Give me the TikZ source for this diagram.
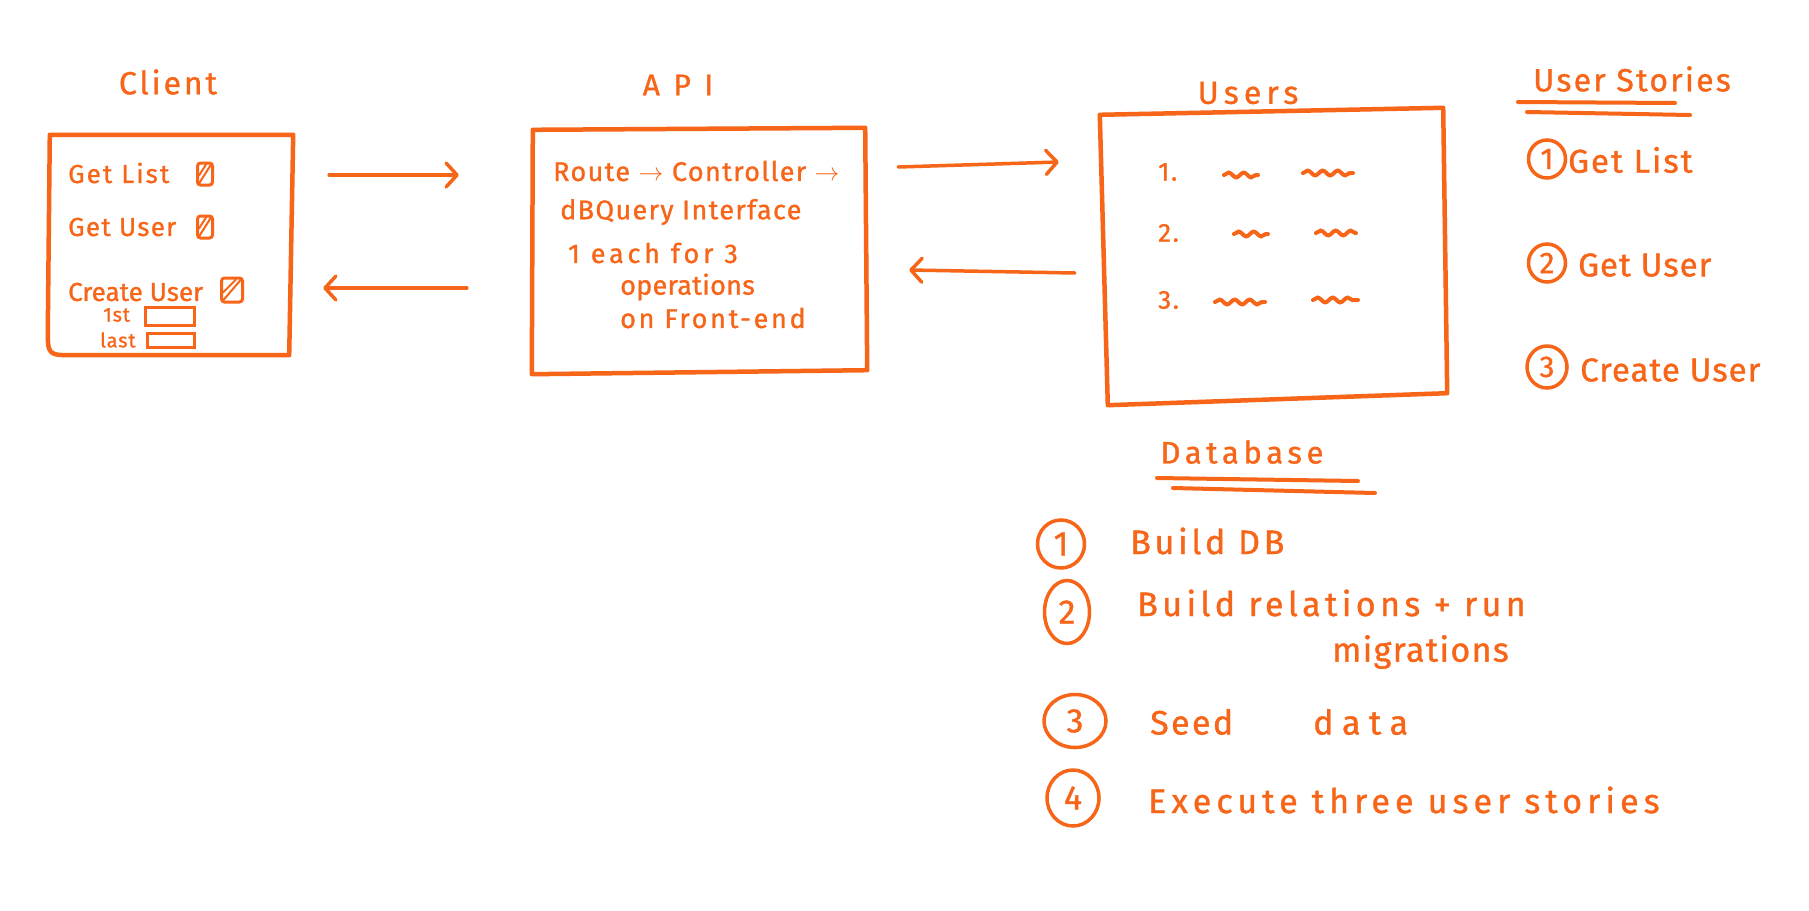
\documentclass[tikz,border=0pt]{standalone}
\usepackage{fontspec}
\setmainfont{Fira Sans}[FakeBold=1]
\usetikzlibrary{arrows.meta,shapes.geometric,decorations.pathmorphing}
\definecolor{ink}{RGB}{247,101,25}
\newcommand\hsz[2]{\fontsize{#1}{#1}\selectfont\addfontfeature{LetterSpace=#2}}
\begin{document}
\begin{tikzpicture}[x=1pt,y=-1pt,
  inkline/.style={draw=ink,line width=4.5pt,line cap=round,line join=round},
  arr/.style={draw=ink,line width=3.5pt,line cap=round,-{Straight Barb[length=11pt,width=24pt,round]}},
  txt/.style={text=ink,inner sep=0pt,anchor=west},
  ttl/.style={text=ink,inner sep=0pt,anchor=center},
  boxarea/.style={inner sep=0pt,draw=none},
  chk/.style={draw=ink,line width=3pt,rounded corners=3pt,inner sep=0pt},
  field/.style={draw=ink,line width=3pt,inner sep=0pt},
  numc/.style={ellipse,draw=ink,line width=3.5pt,text=ink,inner sep=0pt},
  squig/.style={draw=ink,line width=4pt,line cap=round,decorate,decoration={snake,amplitude=2.4pt,segment length=15pt}},
  uline/.style={draw=ink,line width=4pt,line cap=round}
]
\useasboundingbox (0,0) rectangle (1809,910);
\fill[white] (0,0) rectangle (1809,910);

% ---------- Client ----------
\node[ttl,font=\hsz{32}{9}] (clientlbl) at (168,82) {Client};
\node[boxarea,minimum width=243pt,minimum height=220pt] (client) at (171.5,245) {};
\draw[inkline] (client.north west) -- (client.north east) -- ([shift={(-4,0)}]client.south east)
  -- ([shift={(24,0)}]client.south west) .. controls ([shift={(-2,0)}]client.south west) .. ([shift={(-2,-26)}]client.south west)
  -- cycle;
\node[txt,font=\hsz{26}{8}] (getlist) at (68,173) {Get List};
\node[chk,minimum width=15pt,minimum height=22pt] (chk1) at (205,174) {};
\node[txt,font=\hsz{26}{5}] (getuser) at (68,227) {Get User};
\node[chk,minimum width=15pt,minimum height=22pt] (chk2) at (205,227) {};
\node[txt,font=\hsz{26}{0}] (createuser) at (68,292) {Create User};
\node[chk,minimum width=21pt,minimum height=24pt] (chk3) at (232,290) {};
\foreach \c in {chk1,chk2,chk3}{
  \draw[draw=ink,line width=2pt,line cap=round] ([shift={(3,-3)}]\c.south west) -- ([shift={(-3,3)}]\c.north east);
  \draw[draw=ink,line width=2pt,line cap=round] ([shift={(3,-11)}]\c.south west) -- ([shift={(-8,3)}]\c.north east);
}
\node[txt,font=\hsz{20}{4}] (first) at (103,315) {1st};
\node[field,minimum width=49pt,minimum height=18pt] (in1) at (169.5,316) {};
\node[txt,font=\hsz{20}{4}] (last) at (100,340) {last};
\node[field,minimum width=47pt,minimum height=14pt] (in2) at (170.5,340) {};

% ---------- API ----------
\node[ttl,font=\hsz{30}{45}] (apilbl) at (678,85) {API};
\node[boxarea,minimum width=332pt,minimum height=244pt] (api) at (699,250) {};
\draw[inkline] ([shift={(0,2)}]api.north west) -- (api.north east) -- ([shift={(2,-2)}]api.south east)
  -- ([shift={(-1,2)}]api.south west) -- cycle;
\node[txt,font=\hsz{27}{5}] (route) at (553,171) {Route $\rightarrow$ Controller $\rightarrow$};
\node[txt,font=\hsz{27}{5}] (dbq) at (560,212) {dBQuery Interface};
\node[txt,font=\hsz{27}{14}] (each) at (568,253) {1 each for 3};
\node[txt,font=\hsz{27}{1}] (ops) at (620,287) {operations};
\node[txt,font=\hsz{27}{10}] (front) at (620,318) {on Front-end};

% ---------- Users ----------
\node[ttl,font=\hsz{32}{16}] (userslbl) at (1248,93) {Users};
\node[boxarea,minimum width=345pt,minimum height=295pt] (users) at (1272.5,257.5) {};
\draw[inkline] ([shift={(0,5)}]users.north west) -- ([shift={(-2,-2)}]users.north east) -- ([shift={(2,-12)}]users.south east)
  -- ([shift={(8,0)}]users.south west) -- cycle;
\node[txt,font=\hsz{26}{6}] (r1) at (1158,172) {1.};
\node[txt,font=\hsz{26}{6}] (r2) at (1158,233) {2.};
\node[txt,font=\hsz{26}{6}] (r3) at (1158,300) {3.};
\draw[squig] (1224,175) -- (1258,175);
\draw[squig] (1303,173) -- (1353,173);
\draw[squig] (1234,234) -- (1268,234);
\draw[squig] (1316,233) -- (1356,233);
\draw[squig] (1215,302) -- (1265,302);
\draw[squig] (1313,300) -- (1358,300);

% ---------- Arrows ----------
\draw[arr] ([shift={(36,-70)}]client.east) -- ([shift={(-74,-75)}]api.west);
\draw[arr] ([shift={(-66,38)}]api.west) -- ([shift={(30,43)}]client.east);
\draw[arr] ([shift={(33,-83)}]api.east) -- ([shift={(-41,-95.5)}]users.west);
\draw[arr] ([shift={(-25,15.5)}]users.west) -- ([shift={(44,20)}]api.east);

% ---------- User Stories ----------
\node[txt,font=\hsz{32}{7}] (uslbl) at (1533,79) {User Stories};
\draw[uline] (1518,102) -- (1675,103);
\draw[uline] (1527,112) -- (1690,115);
\node[numc,minimum width=37pt,minimum height=38pt,font=\hsz{30}{0}] (us1) at (1547,159) {1};
\node[txt,font=\hsz{33}{6}] (us1t) at (1568,160) {Get List};
\node[numc,minimum width=37pt,minimum height=38pt,font=\hsz{30}{0}] (us2) at (1547,263) {2};
\node[txt,font=\hsz{33}{3}] (us2t) at (1578,265) {Get User};
\node[numc,minimum width=40pt,minimum height=42pt,font=\hsz{30}{0}] (us3) at (1547,367) {3};
\node[txt,font=\hsz{33}{3}] (us3t) at (1580,370) {Create User};

% ---------- Database ----------
\node[ttl,font=\hsz{31}{15}] (dblbl) at (1242,452) {Database};
\draw[uline] (1157,478) -- (1358,481);
\draw[uline] (1173,488) -- (1375,493);
\node[numc,minimum width=47pt,minimum height=48pt,font=\hsz{34}{0}] (db1) at (1061,544) {1};
\node[txt,font=\hsz{34}{11}] (db1t) at (1130,541) {Build DB};
\node[numc,minimum width=45pt,minimum height=63pt,font=\hsz{34}{0}] (db2) at (1067,612) {2};
\node[txt,font=\hsz{34}{13}] (db2t) at (1137,603) {Build relations + run};
\node[txt,font=\hsz{34}{4}] (db2u) at (1332,652) {migrations};
\node[numc,minimum width=62pt,minimum height=53pt,font=\hsz{34}{0}] (db3) at (1075,721) {3};
\node[txt,font=\hsz{34}{7}] (db3t) at (1150,722) {Seed};
\node[txt,font=\hsz{34}{25}] (db3u) at (1313,722) {data};
\node[numc,minimum width=52pt,minimum height=56pt,font=\hsz{34}{0}] (db4) at (1073,798) {4};
\node[txt,font=\hsz{34}{15}] (db4t) at (1148,800) {Execute three user stories};
\end{tikzpicture}
\end{document}
